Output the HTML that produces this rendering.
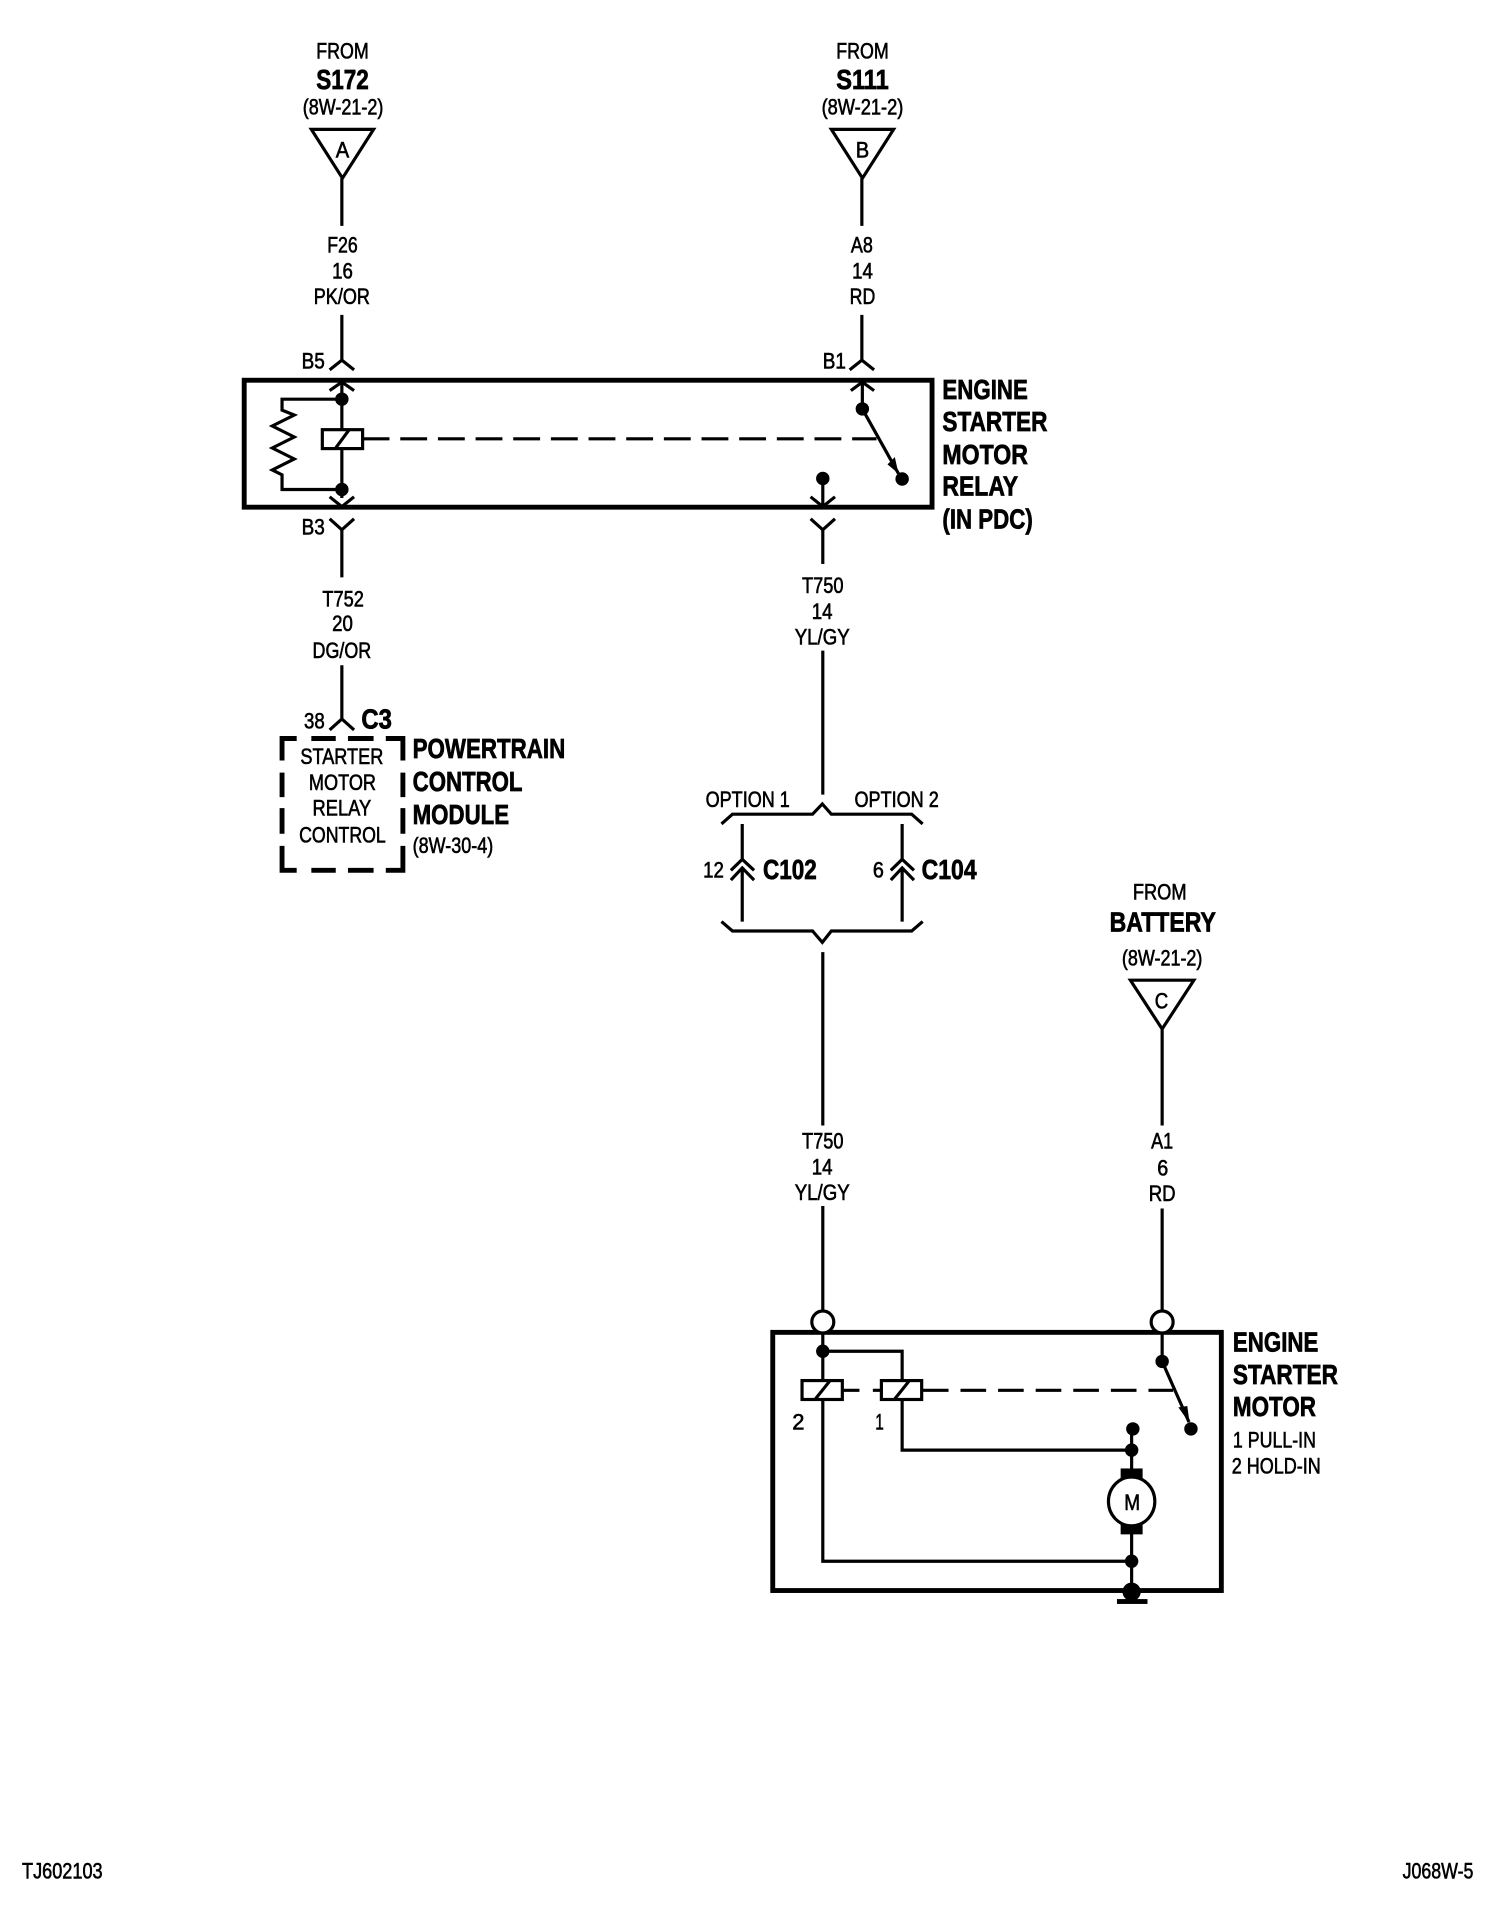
<!DOCTYPE html>
<html>
<head>
<meta charset="utf-8">
<style>
html,body{margin:0;padding:0;background:#fff;width:1504px;height:1914px;overflow:hidden}
svg{display:block}
text{font-family:"Liberation Sans",sans-serif;fill:#000}
.r{font-size:18px;stroke:#000;stroke-width:.5}
.b{font-size:23px;font-weight:bold;stroke:#000;stroke-width:.6}
.w{fill:none;stroke:#000;stroke-width:2.6}
.h{fill:none;stroke:#000;stroke-width:4}
</style>
</head>
<body>
<svg width="1504" height="1914" viewBox="0 0 1232 1568" xmlns="http://www.w3.org/2000/svg">
<!-- Top left feed -->
<text class="r" x="259" y="48" textLength="43" lengthAdjust="spacingAndGlyphs">FROM</text>
<text class="b" x="259" y="73" textLength="43" lengthAdjust="spacingAndGlyphs">S172</text>
<text class="r" x="248" y="94" textLength="66" lengthAdjust="spacingAndGlyphs">(8W-21-2)</text>
<path class="w" d="M255 106H306L280.500 146ZM280 146V185"/>
<text class="r" x="275" y="129" textLength="11" lengthAdjust="spacingAndGlyphs">A</text>
<text class="r" x="268" y="207" textLength="25" lengthAdjust="spacingAndGlyphs">F26</text>
<text class="r" x="272" y="228" textLength="17" lengthAdjust="spacingAndGlyphs">16</text>
<text class="r" x="257" y="249" textLength="46" lengthAdjust="spacingAndGlyphs">PK/OR</text>
<path class="w" d="M280 258V295M270 303L280 295L290 303"/>
<text class="r" x="247" y="302" textLength="19" lengthAdjust="spacingAndGlyphs">B5</text>
<!-- Top right feed -->
<text class="r" x="685" y="48" textLength="43" lengthAdjust="spacingAndGlyphs">FROM</text>
<text class="b" x="685" y="73" textLength="43" lengthAdjust="spacingAndGlyphs">S111</text>
<text class="r" x="673" y="94" textLength="67" lengthAdjust="spacingAndGlyphs">(8W-21-2)</text>
<path class="w" d="M681 106H732L706.500 146ZM706 146V185"/>
<text class="r" x="701" y="129" textLength="11" lengthAdjust="spacingAndGlyphs">B</text>
<text class="r" x="697" y="207" textLength="18" lengthAdjust="spacingAndGlyphs">A8</text>
<text class="r" x="698" y="228" textLength="17" lengthAdjust="spacingAndGlyphs">14</text>
<text class="r" x="696" y="249" textLength="21" lengthAdjust="spacingAndGlyphs">RD</text>
<path class="w" d="M706 258V295M696 303L706 295L716 303"/>
<text class="r" x="674" y="302" textLength="19" lengthAdjust="spacingAndGlyphs">B1</text>
<!-- Relay -->
<rect class="h" x="200" y="311.500" width="563.500" height="104"/>
<path class="w" d="M270 320L280 313L290 320M280 313V352M280 368V408M270 407L280 415L290 407"/>
<path class="w" d="M280 327H231V336L241 340L223 349L241 358L223 367L241 376L223 385L231 389V401H280"/>
<circle cx="280" cy="327" r="5.500"/>
<circle cx="280" cy="401" r="5.500"/>
<rect class="w" x="264" y="352" width="33" height="15.500"/>
<path class="w" d="M275 367L286 352"/>
<path class="w" d="M297 359.500H718" stroke-dasharray="22 8.850"/>
<path class="w" d="M697 320L706.400 313L716 320M706.400 313V335L736 388"/>
<circle cx="706.400" cy="335" r="5.500"/>
<circle cx="739" cy="392.400" r="5.500"/>
<path d="M736 388L727 380.400L733 374.500Z"/>
<circle cx="674" cy="392" r="5.500"/>
<path class="w" d="M674 392V415M664 407L674 415L684 407"/>
<!-- Relay labels -->
<text class="b" x="772" y="327" textLength="70" lengthAdjust="spacingAndGlyphs">ENGINE</text>
<text class="b" x="772" y="353" textLength="86" lengthAdjust="spacingAndGlyphs">STARTER</text>
<text class="b" x="772" y="380" textLength="70" lengthAdjust="spacingAndGlyphs">MOTOR</text>
<text class="b" x="772" y="406" textLength="62" lengthAdjust="spacingAndGlyphs">RELAY</text>
<text class="b" x="772" y="433" textLength="74" lengthAdjust="spacingAndGlyphs">(IN PDC)</text>
<!-- B3 wire -->
<path class="w" d="M270 425L280 434L290 425M280 434V473"/>
<text class="r" x="247" y="438" textLength="19" lengthAdjust="spacingAndGlyphs">B3</text>
<text class="r" x="264" y="497" textLength="34" lengthAdjust="spacingAndGlyphs">T752</text>
<text class="r" x="272" y="517" textLength="17" lengthAdjust="spacingAndGlyphs">20</text>
<text class="r" x="256" y="539" textLength="48" lengthAdjust="spacingAndGlyphs">DG/OR</text>
<path class="w" d="M280 545V589M270 598L280 589L290 598"/>
<text class="r" x="249" y="597" textLength="17" lengthAdjust="spacingAndGlyphs">38</text>
<text class="b" x="296" y="597" textLength="25" lengthAdjust="spacingAndGlyphs">C3</text>
<!-- PCM -->
<path class="h" d="M231 623V605H243M255 605H275M285 605H306M316 605H330V623M231 633V653M231 662V683M231 693V713H243M330 633V653M330 662V683M330 693V713H316M255 713H275M285 713H306"/>
<text class="r" x="246" y="626" textLength="68" lengthAdjust="spacingAndGlyphs">STARTER</text>
<text class="r" x="253" y="647" textLength="55" lengthAdjust="spacingAndGlyphs">MOTOR</text>
<text class="r" x="256" y="668" textLength="48" lengthAdjust="spacingAndGlyphs">RELAY</text>
<text class="r" x="245" y="690" textLength="71" lengthAdjust="spacingAndGlyphs">CONTROL</text>
<text class="b" x="338" y="621" textLength="125" lengthAdjust="spacingAndGlyphs">POWERTRAIN</text>
<text class="b" x="338" y="648" textLength="90" lengthAdjust="spacingAndGlyphs">CONTROL</text>
<text class="b" x="338" y="675" textLength="79" lengthAdjust="spacingAndGlyphs">MODULE</text>
<text class="r" x="338" y="699" textLength="66" lengthAdjust="spacingAndGlyphs">(8W-30-4)</text>
<!-- T750 upper -->
<path class="w" d="M674 433V462"/>
<path class="w" d="M664 425L674 434L684 425"/>
<text class="r" x="657" y="486" textLength="34" lengthAdjust="spacingAndGlyphs">T750</text>
<text class="r" x="665" y="507" textLength="17" lengthAdjust="spacingAndGlyphs">14</text>
<text class="r" x="651" y="528" textLength="45" lengthAdjust="spacingAndGlyphs">YL/GY</text>
<path class="w" d="M674 533V651"/>
<!-- Options -->
<text class="r" x="578" y="661" textLength="69" lengthAdjust="spacingAndGlyphs">OPTION 1</text>
<text class="r" x="700" y="661" textLength="69" lengthAdjust="spacingAndGlyphs">OPTION 2</text>
<path class="w" d="M591 675L600 667H665.600L673.600 658.600L681 667H746.800L755.800 675"/>
<path class="w" d="M608 675V704M598.700 713L608 704L617.700 713M608 711V755M598.700 721L608 711L617.700 721"/>
<path class="w" d="M739 675V704M729.700 713L739 704L748.700 713M739 711V755M729.700 721L739 711L748.700 721"/>
<text class="r" x="576" y="719" textLength="17" lengthAdjust="spacingAndGlyphs">12</text>
<text class="r" x="715" y="719" textLength="9" lengthAdjust="spacingAndGlyphs">6</text>
<text class="b" x="625" y="720" textLength="44" lengthAdjust="spacingAndGlyphs">C102</text>
<text class="b" x="755" y="720" textLength="45" lengthAdjust="spacingAndGlyphs">C104</text>
<path class="w" d="M591 755L600 762.700H665.600L673.600 772L681 762.700H746.800L755.800 755"/>
<path class="w" d="M674 780V922"/>
<text class="r" x="657" y="941" textLength="34" lengthAdjust="spacingAndGlyphs">T750</text>
<text class="r" x="665" y="962" textLength="17" lengthAdjust="spacingAndGlyphs">14</text>
<text class="r" x="651" y="983" textLength="45" lengthAdjust="spacingAndGlyphs">YL/GY</text>
<path class="w" d="M674 988V1075"/>
<!-- Battery -->
<text class="r" x="928" y="737" textLength="44" lengthAdjust="spacingAndGlyphs">FROM</text>
<text class="b" x="909" y="763" textLength="87" lengthAdjust="spacingAndGlyphs">BATTERY</text>
<text class="r" x="919" y="791" textLength="66" lengthAdjust="spacingAndGlyphs">(8W-21-2)</text>
<path class="w" d="M926 803H978L952 843ZM952 843V922"/>
<text class="r" x="946" y="826" textLength="11" lengthAdjust="spacingAndGlyphs">C</text>
<text class="r" x="943" y="941" textLength="18" lengthAdjust="spacingAndGlyphs">A1</text>
<text class="r" x="948" y="963" textLength="9" lengthAdjust="spacingAndGlyphs">6</text>
<text class="r" x="941" y="984" textLength="22" lengthAdjust="spacingAndGlyphs">RD</text>
<path class="w" d="M952 990V1075"/>
<!-- Motor -->
<rect class="h" x="633" y="1091.500" width="367.500" height="211.500"/>
<circle cx="674" cy="1083" r="9" fill="#fff" stroke="#000" stroke-width="2.600"/>
<circle cx="952" cy="1083" r="9" fill="#fff" stroke="#000" stroke-width="2.600"/>
<path class="w" d="M674 1092V1131M674 1107H739V1131M674 1147V1279H927M739 1147V1188H927M927 1170V1207M927 1255V1304"/>
<circle cx="674" cy="1107" r="5.500"/>
<rect class="w" x="657" y="1131" width="33" height="15.500"/>
<path class="w" d="M668 1146L680 1131"/>
<rect class="w" x="722" y="1131" width="33" height="15.500"/>
<path class="w" d="M733 1146L745 1131"/>
<path class="w" d="M691 1139H704M715 1139H722"/>
<path class="w" d="M756 1139H961" stroke-dasharray="21 9.800"/>
<path class="w" d="M952 1092V1115.300L974 1165"/>
<circle cx="952" cy="1115.300" r="5.500"/>
<circle cx="975.600" cy="1170.600" r="5.500"/>
<path d="M974.500 1166L965.300 1153L972.600 1151.800Z"/>
<circle cx="928" cy="1170.600" r="5.500"/>
<circle cx="927" cy="1188" r="5.500"/>
<circle cx="927" cy="1279" r="5.500"/>
<rect x="918" y="1203" width="18" height="11"/>
<rect x="918" y="1246" width="18" height="11"/>
<ellipse cx="927" cy="1230" rx="19" ry="20" fill="#fff" stroke="#000" stroke-width="2.600"/>
<text class="r" x="921" y="1237" textLength="13" lengthAdjust="spacingAndGlyphs">M</text>
<circle cx="927" cy="1304" r="7.500"/>
<rect x="915" y="1310" width="25" height="4"/>
<text class="r" x="649" y="1171" textLength="10" lengthAdjust="spacingAndGlyphs">2</text>
<text class="r" x="717" y="1171" textLength="7" lengthAdjust="spacingAndGlyphs">1</text>
<text class="b" x="1010" y="1107" textLength="70" lengthAdjust="spacingAndGlyphs">ENGINE</text>
<text class="b" x="1010" y="1134" textLength="86" lengthAdjust="spacingAndGlyphs">STARTER</text>
<text class="b" x="1010" y="1160" textLength="68" lengthAdjust="spacingAndGlyphs">MOTOR</text>
<text class="r" x="1010" y="1186" textLength="68" lengthAdjust="spacingAndGlyphs">1 PULL-IN</text>
<text class="r" x="1009" y="1207" textLength="73" lengthAdjust="spacingAndGlyphs">2 HOLD-IN</text>
<!-- Footer -->
<text class="r" x="18" y="1539" textLength="66" lengthAdjust="spacingAndGlyphs">TJ602103</text>
<text class="r" x="1149" y="1539" textLength="58" lengthAdjust="spacingAndGlyphs">J068W-5</text>
</svg>
</body>
</html>
